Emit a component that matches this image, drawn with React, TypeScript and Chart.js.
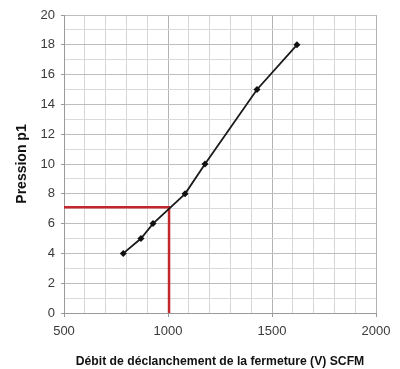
import React, { useEffect, useRef } from "react";
import { Chart, registerables } from "chart.js";

Chart.register(...registerables);

const flowValues = [785, 870, 928, 1082, 1178, 1428, 1620];
const pressureValues = [4, 5, 6, 8, 10, 15, 18];
const redX = [500, 1005, 1005];
const redY = [7.1, 7.1, 0];
const xTickLabels = [500, 1000, 1500, 2000];
const yTickLabels = [0, 2, 4, 6, 8, 10, 12, 14, 16, 18, 20];

export default function App() {
  const ref = useRef<HTMLCanvasElement>(null);
  useEffect(() => {
    if (!ref.current) return;
    const chart = new Chart(ref.current, {
      type: "line",
      data: {
        datasets: [
          {
            data: flowValues.map((x, i) => ({ x, y: pressureValues[i] })),
            borderColor: "#1a1a1a",
            backgroundColor: "#111",
            borderWidth: 1.8,
            pointStyle: "rectRot",
            pointRadius: 3.5,
            pointBorderWidth: 0,
            tension: 0,
          },
          {
            data: redX.map((x, i) => ({ x, y: redY[i] })),
            borderColor: "#c1272d",
            borderWidth: 2.5,
            pointRadius: 0,
            tension: 0,
          },
        ],
      },
      options: {
        animation: false,
        responsive: false,
        maintainAspectRatio: false,
        layout: { padding: { top: 15, right: 24, left: 0, bottom: 0 } },
        plugins: { legend: { display: false }, tooltip: { enabled: false } },
        scales: {
          x: {
            type: "linear",
            min: 500,
            max: 2000,
            afterFit: (s: any) => {
              s.height = 56;
            },
            ticks: {
              stepSize: 100,
              autoSkip: false,
              maxRotation: 0,
              padding: 7,
              color: "#3a3a3a",
              font: { family: "Liberation Sans, Arial", size: 13 },
              callback: (v: any) => (xTickLabels.includes(Number(v)) ? String(v) : ""),
            },
            grid: {
              color: (c: any) => (xTickLabels.includes(c.tick?.value) ? "#b4b4b4" : "#d6d6d6"),
              tickColor: (c: any) => (xTickLabels.includes(c.tick?.value) ? "#999" : "rgba(0,0,0,0)"),
              tickLength: 4,
              lineWidth: 1,
            },
            border: { color: "#9a9a9a", width: 1 },
            title: {
              display: true,
              text: "Débit de déclanchement de la fermeture (V) SCFM",
              color: "#111",
              font: { family: "Liberation Sans, Arial", size: 12.2, weight: "bold" },
              padding: { top: 9, bottom: 0 },
            },
          },
          y: {
            type: "linear",
            min: 0,
            max: 20,
            afterFit: (s: any) => {
              s.width = 64;
            },
            ticks: {
              stepSize: 1,
              autoSkip: false,
              padding: 6,
              color: "#3a3a3a",
              font: { family: "Liberation Sans, Arial", size: 13 },
              callback: (v: any) => (yTickLabels.includes(Number(v)) ? String(v) : ""),
            },
            grid: {
              color: (c: any) => (yTickLabels.includes(c.tick?.value) ? "#bdbdbd" : "#dadada"),
              tickColor: (c: any) => (yTickLabels.includes(c.tick?.value) ? "#999" : "rgba(0,0,0,0)"),
              tickLength: 3,
              lineWidth: 1,
            },
            border: { color: "#9a9a9a", width: 1 },
            title: {
              display: true,
              text: "Pression p1",
              color: "#111",
              font: { family: "Liberation Sans, Arial", size: 14, weight: "bold" },
              padding: { top: 14, bottom: 0 },
            },
          },
        },
      },
    });
    return () => chart.destroy();
  }, []);
  return (
    <div style={{ position: "fixed", left: 0, top: 0, width: 400, height: 369, background: "#fff" }}>
      <canvas ref={ref} width={400} height={369} />
    </div>
  );
}
